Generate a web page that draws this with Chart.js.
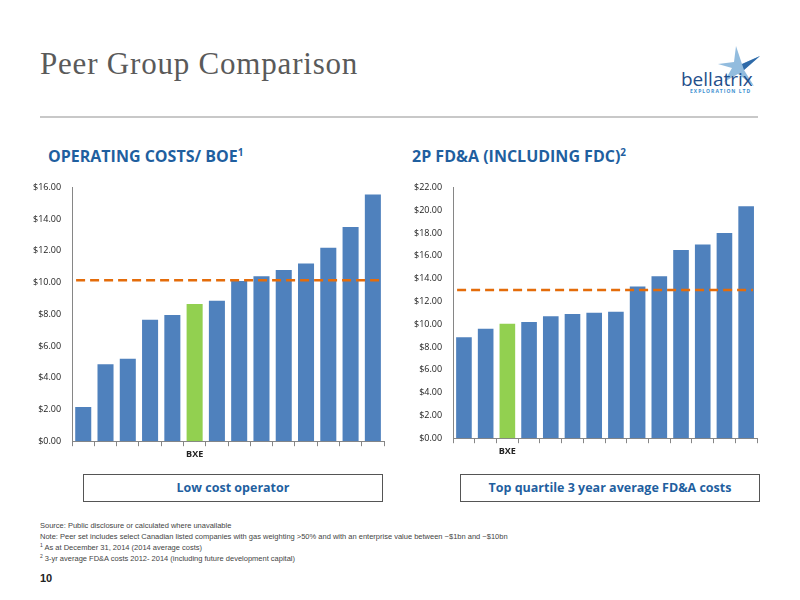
<!DOCTYPE html>
<html><head><meta charset="utf-8">
<script src="https://cdn.jsdelivr.net/npm/chart.js@4"></script>
<style>
body{margin:0;width:800px;height:600px;background:#fff;position:relative;overflow:hidden;font-family:"Open Sans",sans-serif}
.abs{position:absolute}
h1{position:absolute;left:40px;top:46px;margin:0;font:400 31px "Liberation Serif",serif;color:#5a5a5a;letter-spacing:0.8px}
.rule{left:40px;top:116px;width:718px;height:2px;background:#c8c8c8}
.sub{font-weight:700;font-size:16px;color:#1f5f9f;top:145px}
.sub sup{font-size:10px}
.box{border:1px solid #555;height:26px;line-height:26px;text-align:center;font-weight:700;font-size:12.5px;color:#1f5f9f;top:474px}
.notes{left:40px;top:520px;font-size:7.5px;color:#444;line-height:11px;font-family:"Liberation Sans Narrow","Liberation Sans",sans-serif}
.notes sup{font-size:5px;line-height:0;vertical-align:3px}
</style></head><body>
<h1>Peer Group Comparison</h1>
<div class="abs" style="left:682px;top:46px;width:72px;height:48px">
<svg width="80" height="50"><polygon points="54,0 60,18 78,10 62,24 72,40 56,28 42,36 50,22 36,18 52,16" fill="#7fb0d8" opacity="0.85"/><polygon points="60,18 78,10 62,24" fill="#2f6aa8"/></svg></div>
<div class="abs" style="left:681px;top:66px;font:400 19px 'Open Sans';color:#1f4e8a">bellatrix</div>
<div class="abs" style="left:690px;top:88px;font:700 5px 'Open Sans';color:#3d8fd0;letter-spacing:1px">EXPLORATION LTD</div>
<div class="abs rule"></div>
<div class="abs sub" style="left:48px">OPERATING COSTS/ BOE<sup>1</sup></div>
<div class="abs sub" style="left:412px">2P FD&amp;A (INCLUDING FDC)<sup>2</sup></div>
<div class="abs" style="left:30px;top:179px;width:360px;height:284px"><canvas id="c1"></canvas></div>
<div class="abs" style="left:411px;top:179px;width:352px;height:281px"><canvas id="c2"></canvas></div>
<div class="abs box" style="left:83px;width:298px">Low cost operator</div>
<div class="abs box" style="left:460px;width:298px">Top quartile 3 year average FD&amp;A costs</div>
<div class="abs notes">Source: Public disclosure or calculated where unavailable<br>
Note: Peer set includes select Canadian listed companies with gas weighting &gt;50% and with an enterprise value between ~$1bn and ~$10bn<br>
<sup>1</sup> As at December 31, 2014 (2014 average costs)<br>
<sup>2</sup> 3-yr average FD&amp;A costs 2012- 2014 (including future development capital)</div>
<div class="abs" style="left:40px;top:572px;font:700 11px 'Liberation Sans';color:#222">10</div>
<script>
const opCosts = [2.15, 4.85, 5.2, 7.65, 7.95, 8.65, 8.85, 10.1, 10.4, 10.8, 11.2, 12.2, 13.5, 15.55]
const opLabels = ['', '', '', '', '', 'BXE', '', '', '', '', '', '', '', '']
const opAverage = 10.15
const fdaCosts = [8.85, 9.6, 10.05, 10.2, 10.7, 10.9, 11.0, 11.1, 13.3, 14.2, 16.5, 17.0, 18.0, 20.35]
const fdaLabels = ['', '', 'BXE', '', '', '', '', '', '', '', '', '', '', '']
const fdaAverage = 13.0

const blue = '#4f81bd', green = '#92d050'

const avgLine = {
    id: 'avgLine',
    afterDatasetsDraw(chart, args, opts) {
        const {ctx, chartArea, scales} = chart
        const y = scales.y.getPixelForValue(opts.value)
        ctx.save()
        ctx.strokeStyle = '#e46c0a'
        ctx.lineWidth = 2.5
        ctx.setLineDash([9, 5])
        ctx.beginPath()
        ctx.moveTo(chartArea.left + 4, y)
        ctx.lineTo(chartArea.right - 4, y)
        ctx.stroke()
        ctx.restore()
    }
}

function makeChart(el, labels, values, bxe, avg, max) {
    return new Chart(document.getElementById(el), {
        type: 'bar',
        data: {
            labels: labels,
            datasets: [{
                data: values,
                backgroundColor: values.map((v, i) => i === bxe ? green : blue),
                categoryPercentage: 1,
                barPercentage: 0.72
            }]
        },
        options: {
            responsive: true,
            maintainAspectRatio: false,
            animation: false,
            layout: {padding: {top: 4, right: 6}},
            plugins: {legend: {display: false}, tooltip: {enabled: false}, avgLine: {value: avg}},
            scales: {
                x: {
                    grid: {display: true, drawOnChartArea: false, offset: true, tickLength: 5, color: '#868686'},
                    border: {color: '#868686'},
                    ticks: {font: {family: 'Open Sans', size: 9, weight: 'bold'}, color: '#222', maxRotation: 0, autoSkip: false}
                },
                y: {
                    min: 0, max: max,
                    ticks: {stepSize: 2, font: {family: 'Open Sans', size: 9}, color: '#222', callback: v => '$' + v.toFixed(2)},
                    grid: {display: false},
                    border: {color: '#868686'}
                }
            }
        },
        plugins: [avgLine]
    })
}

makeChart('c1', opLabels, opCosts, 5, opAverage, 16)
makeChart('c2', fdaLabels, fdaCosts, 2, fdaAverage, 22)
</script>
</body></html>
